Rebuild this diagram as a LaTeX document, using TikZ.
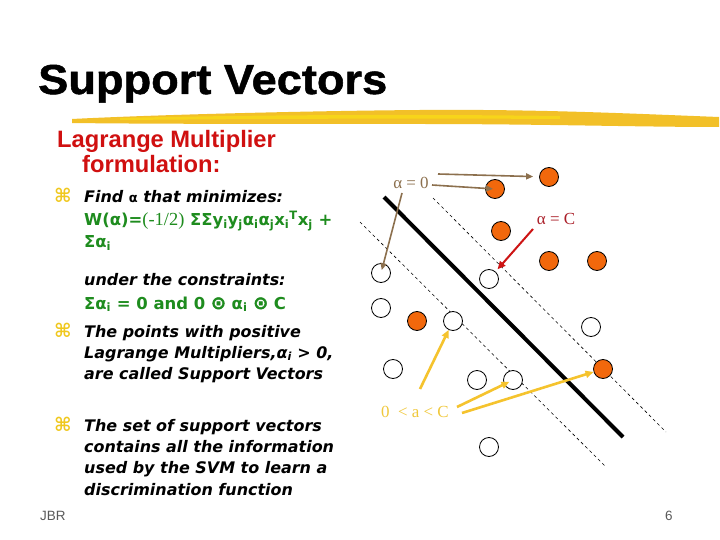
\documentclass[tikz,border=0pt]{standalone}
\usepackage{fontspec}
\setmainfont{DejaVu Sans}
\newfontfamily\ttlfont{Liberation Sans}
\newfontfamily\bigttl[FakeStretch=1.08,FakeBold=1.2]{Liberation Sans}
\newfontfamily\vdfont{DejaVu Sans}
\newfontfamily\symfont[FakeBold=2.5]{DejaVu Sans}
\newfontfamily\srffont{Liberation Serif}
\usetikzlibrary{arrows.meta}
\definecolor{gr}{RGB}{30,140,30}
\definecolor{lagred}{RGB}{208,16,16}
\definecolor{brushy}{RGB}{242,192,40}
\definecolor{bulY}{RGB}{240,200,30}
\definecolor{orng}{RGB}{242,104,12}
\definecolor{brn}{RGB}{140,112,78}
\definecolor{darkred}{RGB}{170,30,40}
\definecolor{arrred}{RGB}{205,20,20}
\definecolor{yel}{RGB}{245,195,45}
\definecolor{yeltxt}{RGB}{240,200,60}
\begin{document}
\begin{tikzpicture}[x=1bp,y=-1bp,
  body/.style={anchor=base west,inner sep=0pt,font=\vdfont\bfseries\itshape\fontsize{16}{16}\selectfont},
  grn/.style={anchor=base west,inner sep=0pt,text=gr,font=\vdfont\bfseries\fontsize{16.5}{16.5}\selectfont},
  bul/.style={anchor=base west,inner sep=0pt,text=bulY,font=\vdfont\bfseries\fontsize{19}{19}\selectfont},
  opn/.style={circle,draw=black,line width=0.8bp,fill=white,minimum size=19bp,inner sep=0pt},
  fil/.style={circle,draw=black,line width=0.8bp,fill=orng,minimum size=19bp,inner sep=0pt},
  dsh/.style={line width=0.6bp,dash pattern=on 3bp off 3bp},
  brnarr/.style={draw=brn,line width=1.6bp,-{Triangle[length=7bp,width=6bp]}},
  redarr/.style={draw=arrred,line width=2bp,-{Triangle[length=8bp,width=7bp]}},
  yelarr/.style={draw=yel,line width=2.6bp,-{Triangle[length=8bp,width=7bp]}},
  lbl/.style={inner sep=0pt,font=\srffont\fontsize{17}{17}\selectfont}
]
\useasboundingbox (0,0) rectangle (720,540);
\fill[white] (0,0) rectangle (720,540);

% title
\node[anchor=base west,inner sep=0pt,font=\bigttl\bfseries\fontsize{42}{42}\selectfont] (title) at (38,94) {Support Vectors};
% brush stroke
\fill[brushy] (72,119) .. controls (150,115) and (300,111) .. (420,110)
  .. controls (540,109) and (640,114) .. (719,117) -- (719,127)
  .. controls (640,127) and (540,124) .. (420,124)
  .. controls (300,124) and (150,124) .. (72,123) -- cycle;
\fill[yellow!70!brushy,opacity=0.6] (120,118) .. controls (250,115) and (400,114) .. (560,116) -- (560,119) .. controls (400,118) and (250,119) .. (120,120) -- cycle;

% left text
\node[anchor=base west,inner sep=0pt,text=lagred,font=\ttlfont\bfseries\fontsize{23.8}{23.8}\selectfont] (lag1) at (57,148) {Lagrange Multiplier};
\node[anchor=base west,inner sep=0pt,text=lagred,font=\ttlfont\bfseries\fontsize{23.8}{23.8}\selectfont] (lag2) at (82,173) {formulation:};

\node[bul] (b1) at (54,203) {⌘};
\node[body] (t1) at (84,203) {Find {\upshape\fontsize{13}{13}\selectfont α} that minimizes:};
\node[grn] (t2) at (84,226) {W(α)={\srffont\mdseries\fontsize{18.5}{18.5}\selectfont(-1/2)} ΣΣy\textsubscript{i}y\textsubscript{j}α\textsubscript{i}α\textsubscript{j}x\textsubscript{i}\textsuperscript{T}x\textsubscript{j} +};
\node[grn] (t3) at (84,248) {Σα\textsubscript{i}};
\node[body] (t4) at (84,286) {under the constraints:};
\node[grn] (t5) at (84,309) {Σα\textsubscript{i} = 0 and 0 {\symfont\fontsize{18}{18}\selectfont ⊙} α\textsubscript{i} {\symfont\fontsize{18}{18}\selectfont ⊙} C};
\node[bul] (b2) at (54,337) {⌘};
\node[body] (t6) at (84,337) {The points with positive};
\node[body] (t7) at (84,358) {Lagrange Multipliers,α\textsubscript{i} > 0,};
\node[body] (t8) at (84,379) {are called Support Vectors};
\node[bul] (b3) at (54,431) {⌘};
\node[body] (t9) at (84,431) {The set of support vectors};
\node[body] (t10) at (84,452) {contains all the information};
\node[body] (t11) at (84,473) {used by the SVM to learn a};
\node[body] (t12) at (84,495) {discrimination function};

\node[anchor=base west,inner sep=0pt,text=black!65,font=\ttlfont\fontsize{13.5}{13.5}\selectfont] (jbr) at (40,520) {JBR};
\node[anchor=base west,inner sep=0pt,text=black!65,font=\ttlfont\fontsize{13.5}{13.5}\selectfont] (pg) at (665,520) {6};

% separating lines
\coordinate (s1) at (384,197); \coordinate (s2) at (623,437);
\coordinate (dl1) at (360,222); \coordinate (dl2) at (606,467);
\coordinate (dr1) at (433,198); \coordinate (dr2) at (666,432);
\draw[line width=4bp] (s1) -- (s2);
\draw[dsh] (dl1) -- (dl2);
\draw[dsh] (dr1) -- (dr2);

% points
\node[fil] (f1) at (549,177) {};
\node[fil] (f2) at (495,189) {};
\node[fil] (f3) at (501,231) {};
\node[fil] (f4) at (549,261) {};
\node[fil] (f5) at (597,261) {};
\node[fil] (f6) at (417,321) {};
\node[fil] (f7) at (603,369) {};
\node[opn] (o1) at (381,273) {};
\node[opn] (o2) at (489,279) {};
\node[opn] (o3) at (381,308) {};
\node[opn] (o4) at (453,321) {};
\node[opn] (o5) at (591,327) {};
\node[opn] (o6) at (393,369) {};
\node[opn] (o7) at (477,380) {};
\node[opn] (o8) at (513,380) {};
\node[opn] (o9) at (489,447) {};

% labels
\node[lbl,text=brn,anchor=base] (la0) at (411,189) {α = 0};
\node[lbl,text=darkred,anchor=base] (laC) at (556,225) {α = C};
\node[lbl,text=yeltxt,anchor=base] (lam) at (415,417) {0 \ < a < C};

% arrows
\coordinate (a0s1) at (438,174);
\coordinate (a0s2) at (432,185);
\coordinate (a0s3) at (402,193);
\draw[brnarr,shorten >=6bp] (a0s1) -- (f1);
\draw[brnarr,shorten >=2bp] (a0s2) -- (f2.center);
\draw[brnarr,shorten >=3bp] (a0s3) -- (o1.center);
\coordinate (aCs) at (533,229);
\draw[redarr,shorten >=3bp] (aCs) -- (o2);
\coordinate (ams1) at (420,389);
\coordinate (ams2) at (457,407);
\coordinate (ams3) at (462,413);
\draw[yelarr] (ams1) -- (o4);
\draw[yelarr,shorten >=4bp] (ams2) -- (o8.center);
\draw[yelarr] (ams3) -- (f7);
\end{tikzpicture}
\end{document}
